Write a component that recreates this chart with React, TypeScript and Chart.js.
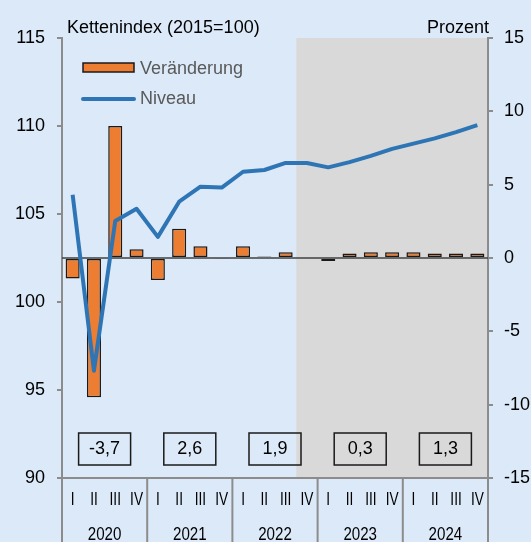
import React, { useEffect, useRef } from "react";
import { Chart, registerables } from "chart.js";
Chart.register(...registerables);

const quarters = ["I", "II", "III", "IV"];
const years = ["2020", "2021", "2022", "2023", "2024"];
const categories = years.flatMap((y) => quarters.map((q) => `${q} ${y}`));
const changeValues = [-1.4, -9.5, 9.0, 0.6, -1.5, 2.0, 0.8, -0.05, 0.8, 0.1, 0.4, 0.0, -0.2, 0.3, 0.4, 0.4, 0.4, 0.3, 0.3, 0.3];
const levelValues = [106.1, 96.1, 104.6, 105.3, 103.7, 105.7, 106.55, 106.5, 107.4, 107.5, 107.9, 107.9, 107.65, 107.95, 108.3, 108.7, 109.0, 109.3, 109.65, 110.05];
const annualRates = ["-3,7", "2,6", "1,9", "0,3", "1,3"];
const forecastStartIndex = 11;
const leftAxisTitle = "Kettenindex (2015=100)";
const rightAxisTitle = "Prozent";
const legendLabels = ["Veränderung", "Niveau"];

const FONT = "'Liberation Sans', Arial, sans-serif";
const BG = "#dce9f8";
const AXIS = "#8c8c8c";
const ORANGE = "#ed7d31";
const BLUE = "#2e75b6";

function condensedText(ctx: CanvasRenderingContext2D, text: string, x: number, y: number, sx: number) {
  ctx.save();
  ctx.translate(x, y);
  ctx.scale(sx, 1);
  ctx.fillText(text, 0, 0);
  ctx.restore();
}

const decorPlugin = {
  id: "decor",
  beforeDraw(chart: any) {
    const { ctx, chartArea, scales } = chart;
    ctx.save();
    ctx.fillStyle = BG;
    ctx.fillRect(0, 0, chart.width, chart.height);
    const x = scales.x;
    const w = x.getPixelForValue(1) - x.getPixelForValue(0);
    const sx = x.getPixelForValue(forecastStartIndex) - w / 2;
    ctx.fillStyle = "#d9d9d9";
    ctx.fillRect(sx, chartArea.top, chartArea.right - 1 - sx, chartArea.bottom - chartArea.top);
    ctx.restore();
  },
  beforeDatasetsDraw(chart: any) {
    const { ctx, chartArea, scales } = chart;
    const y0 = scales.y1.getPixelForValue(0);
    ctx.save();
    ctx.strokeStyle = "#404040";
    ctx.lineWidth = 1.5;
    ctx.beginPath();
    ctx.moveTo(chartArea.left, y0);
    ctx.lineTo(chartArea.right, y0);
    ctx.stroke();
    ctx.restore();
  },
  afterDraw(chart: any) {
    const { ctx, chartArea, scales } = chart;
    const x = scales.x;
    const w = x.getPixelForValue(1) - x.getPixelForValue(0);
    ctx.save();
    // x axis line
    ctx.strokeStyle = AXIS;
    ctx.lineWidth = 2;
    ctx.beginPath();
    ctx.moveTo(chartArea.left - 5, chartArea.bottom);
    ctx.lineTo(chartArea.right + 5, chartArea.bottom);
    ctx.stroke();
    // year separators
    for (let i = 0; i <= years.length; i++) {
      const px = i < years.length ? x.getPixelForValue(i * 4) - w / 2 : x.getPixelForValue(categories.length - 1) + w / 2;
      ctx.beginPath();
      ctx.moveTo(px, chartArea.bottom);
      ctx.lineTo(px, chart.height);
      ctx.stroke();
    }
    // quarter labels & years
    ctx.fillStyle = "#000";
    ctx.font = `18px ${FONT}`;
    ctx.textAlign = "center";
    ctx.textBaseline = "middle";
    categories.forEach((c, i) => {
      condensedText(ctx, quarters[i % 4], x.getPixelForValue(i), chartArea.bottom + 22, 0.76);
    });
    years.forEach((yr, k) => {
      const cx = (x.getPixelForValue(k * 4) + x.getPixelForValue(k * 4 + 3)) / 2;
      condensedText(ctx, yr, cx, chartArea.bottom + 57, 0.84);
      // annual rate boxes
      ctx.strokeStyle = "#1a1a1a";
      ctx.lineWidth = 1.5;
      ctx.strokeRect(cx - 26, chartArea.bottom - 45, 52, 32);
      ctx.fillText(annualRates[k], cx, chartArea.bottom - 28.5);
    });
    // titles
    ctx.textBaseline = "alphabetic";
    ctx.textAlign = "left";
    ctx.fillText(leftAxisTitle, 67, 33);
    ctx.textAlign = "right";
    ctx.fillText(rightAxisTitle, chartArea.right + 1, 33);
    // legend
    ctx.fillStyle = ORANGE;
    ctx.fillRect(83, 63, 51, 9);
    ctx.strokeStyle = "#1a1a1a";
    ctx.lineWidth = 1.5;
    ctx.strokeRect(83, 63, 51, 9);
    ctx.strokeStyle = BLUE;
    ctx.lineWidth = 4;
    ctx.lineCap = "round";
    ctx.beginPath();
    ctx.moveTo(83, 99);
    ctx.lineTo(134, 99);
    ctx.stroke();
    ctx.fillStyle = "#595959";
    ctx.textAlign = "left";
    ctx.textBaseline = "middle";
    ctx.fillText(legendLabels[0], 140, 69);
    ctx.fillText(legendLabels[1], 140, 99);
    ctx.restore();
  },
};

export default function App() {
  const ref = useRef<HTMLCanvasElement>(null);
  useEffect(() => {
    const chart = new Chart(ref.current!, {
      type: "bar",
      data: {
        labels: categories,
        datasets: [
          {
            type: "line",
            label: legendLabels[1],
            data: levelValues,
            yAxisID: "y",
            borderColor: BLUE,
            borderWidth: 4,
            borderJoinStyle: "round",
            pointRadius: 0,
            tension: 0,
            order: 0,
          } as any,
          {
            type: "bar",
            label: legendLabels[0],
            data: changeValues,
            yAxisID: "y1",
            backgroundColor: ORANGE,
            borderColor: "#1a1a1a",
            borderWidth: 1.5,
            borderSkipped: false,
            barPercentage: 0.66,
            categoryPercentage: 1,
            order: 1,
          },
        ],
      },
      options: {
        animation: false,
        responsive: false,
        layout: { padding: { top: 38, left: 0, right: 0, bottom: 0 } },
        plugins: { legend: { display: false }, tooltip: { enabled: false } },
        scales: {
          x: {
            ticks: { display: false },
            grid: { display: false },
            border: { display: false },
            afterFit: (s: any) => { s.height = 64; },
          },
          y: {
            position: "left",
            min: 90,
            max: 115,
            ticks: { stepSize: 5, color: "#000", font: { size: 18, family: FONT }, padding: 12 },
            grid: { drawOnChartArea: false, drawTicks: true, tickLength: 5, color: AXIS, lineWidth: 2 },
            border: { display: true, color: AXIS, width: 2 },
            afterFit: (s: any) => { s.width = 62; },
          },
          y1: {
            position: "right",
            min: -15,
            max: 15,
            ticks: { stepSize: 5, color: "#000", font: { size: 18, family: FONT }, padding: 11 },
            grid: { drawOnChartArea: false, drawTicks: true, tickLength: 5, color: AXIS, lineWidth: 2 },
            border: { display: true, color: AXIS, width: 2 },
            afterFit: (s: any) => { s.width = 43; },
          },
        },
      },
      plugins: [decorPlugin],
    });
    return () => chart.destroy();
  }, []);
  return (
    <div style={{ position: "fixed", left: 0, top: 0, width: 531, height: 542, background: BG }}>
      <canvas ref={ref} width={531} height={542} style={{ display: "block" }} />
    </div>
  );
}
